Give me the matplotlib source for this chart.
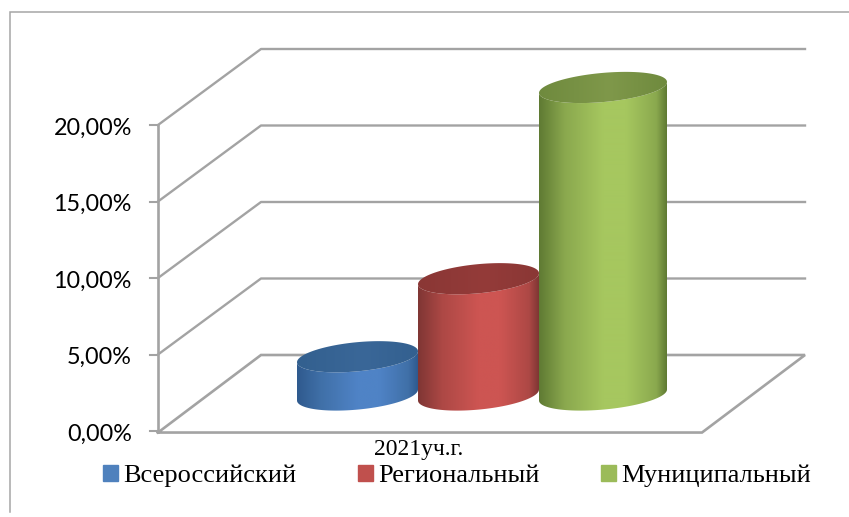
import numpy as np
import matplotlib
matplotlib.use("Agg")
import matplotlib.pyplot as plt
from matplotlib.colors import LinearSegmentedColormap
from matplotlib.patches import PathPatch, Patch
from matplotlib.path import Path

categories = ['Всероссийский', 'Региональный', 'Муниципальный']
values = [2.5, 7.6, 20.1]
group_label = '2021уч.г.'
ticks = [0, 5, 10, 15, 20]
tick_labels = ['0,00%', '5,00%', '10,00%', '15,00%', '20,00%']

colors = ['#4f81bd', '#c0504d', '#9bbb59']
edge_colors = ['#2f5a8e', '#7f3634', '#5f7a33']
side_colors = ['#4070a8', '#ad4845', '#8aa84e']
mid_colors = ['#4f83c6', '#cd5552', '#a6c75f']
top_colors = ['#3a6798', '#943b39', '#7f984a']
top_edge = ['#33608f', '#8a3735', '#6f8a3e']

# layout in pixels of the 849x517 picture, y data stays in percent
W, H = 849, 517
PX = 15.3
ZERO_Y = 431
FRONT_X, BACK_X, RIGHT_X, FRONT_RIGHT_X = 158, 261, 805, 702
DEPTH = 76 / PX
bar_left = [297, 418, 539]
bar_right = [418, 539, 667]
base_y = 36 / PX

fig = plt.figure(figsize=(W / 100, H / 100), dpi=100)
ax = fig.add_axes([0, 0, 1, 1])
ax.set_xlim(0, W)
ax.set_ylim((ZERO_Y - H) / PX, ZERO_Y / PX)
ax.axis('off')

# outer frame, only left and top sides show
frame = '#a6a6a6'
ax.plot([10, 10, W], [(ZERO_Y - 512) / PX, (ZERO_Y - 12) / PX, (ZERO_Y - 12) / PX],
        color=frame, lw=1.1, solid_joinstyle='miter')

grid = '#a3a3a3'
for t, lab in zip(ticks, tick_labels):
    if t > 0:
        ax.plot([FRONT_X, BACK_X, RIGHT_X], [t, t + DEPTH, t + DEPTH], color=grid, lw=1.7)
    ax.plot([150, FRONT_X], [t, t], color=grid, lw=1.5)
    ax.text(132, t - 0.2, lab, ha='right', va='center', fontsize=16.8, family='Lato', color='black')
ax.plot([FRONT_X, FRONT_X], [0, 20], color=grid, lw=1.9)
# floor
ax.plot([FRONT_X, FRONT_RIGHT_X, RIGHT_X, BACK_X, FRONT_X],
        [-0.1, -0.1, DEPTH, DEPTH, -0.1], color=grid, lw=1.9, solid_joinstyle='miter')


def ellipse(cx, cy, a, t):
    x = cx + a * np.cos(t)
    y = cy + (14.6 * np.sin(t) + 5.5 * np.cos(t)) / PX
    return x, y


t_all = np.linspace(0, 2 * np.pi, 120)
t_low = np.linspace(np.pi, 2 * np.pi, 60)

for i, v in enumerate(values):
    x0, x1 = bar_left[i], bar_right[i]
    cx, a = (x0 + x1) / 2, (x1 - x0) / 2
    top_y = base_y + v

    bx, by = ellipse(cx, base_y, a, t_low)
    tx, ty = ellipse(cx, top_y, a, t_low)
    body = Path(np.column_stack([np.r_[bx, tx[::-1]], np.r_[by, ty[::-1]]]))
    ex, ey = ellipse(cx, top_y, a, t_all)
    top = Path(np.column_stack([ex, ey]))

    body_cmap = LinearSegmentedColormap.from_list(
        'body', [(0, edge_colors[i]), (0.2, side_colors[i]), (0.5, mid_colors[i]), (0.68, mid_colors[i]),
                 (0.92, side_colors[i]), (1, edge_colors[i])])
    top_cmap = LinearSegmentedColormap.from_list(
        'top', [(0, top_edge[i]), (0.55, top_colors[i]), (1, top_edge[i])])
    grad = np.linspace(0, 1, 256).reshape(1, -1)
    ymin, ymax = by.min() - 1, ey.max() + 1

    im = ax.imshow(grad, cmap=body_cmap, extent=[x0, x1, ymin, ymax], aspect='auto', zorder=3 + i, interpolation='bilinear')
    im.set_clip_path(PathPatch(body, transform=ax.transData))
    im2 = ax.imshow(grad, cmap=top_cmap, extent=[x0, x1, ymin, ymax], aspect='auto', zorder=3 + i, interpolation='bilinear')
    im2.set_clip_path(PathPatch(top, transform=ax.transData))

ax.set_xlim(0, W)
ax.set_ylim((ZERO_Y - H) / PX, ZERO_Y / PX)

ax.text(419, (ZERO_Y - 450) / PX, group_label, ha='center', va='center', fontsize=17, family='Liberation Serif', zorder=10)

handles = [Patch(color=c, label=n) for c, n in zip(colors, categories)]
ax.legend(handles=handles, loc='center', bbox_to_anchor=(457 / W, 1 - 476 / H), ncol=3, frameon=False,
          prop={'family': 'Liberation Serif', 'size': 19}, handlelength=0.55, handleheight=0.55,
          handletextpad=0.2, columnspacing=2.35, borderpad=0)

fig.savefig('out.png', dpi=100)
